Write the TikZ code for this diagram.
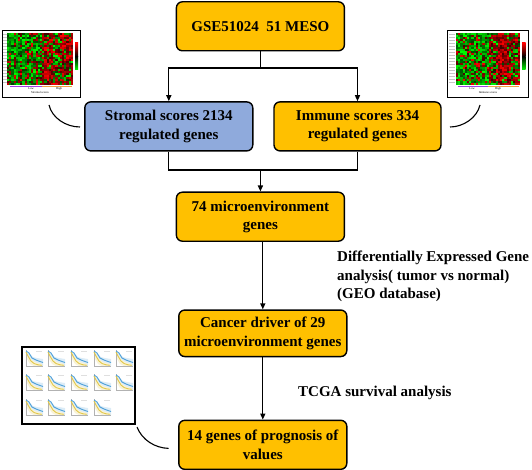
\documentclass[tikz,border=0pt]{standalone}
\usepackage{fontspec}
\setmainfont{Liberation Serif}
\usetikzlibrary{arrows.meta}
\definecolor{boxorange}{HTML}{FFC000}
\definecolor{boxblue}{HTML}{8FAADC}
\definecolor{survblue}{HTML}{4FA0D8}
\definecolor{survyellow}{HTML}{E2C84A}
\definecolor{lowpurple}{HTML}{A040E0}
\definecolor{highorange}{HTML}{F0A040}

% #1 x0, #2 y0, #3 cols, #4 rows, #5 split column, #6 cell width, #7 cell height
\newcommand{\myheat}[7]{%
 \foreach \cc in {1,...,#3}{%
  \pgfmathsetmacro\cb{(\cc<#5+1 ? 0.25 : -0.25) + 0.6*rnd - 0.3}%
  \foreach \rr in {1,...,#4}{%
   \pgfmathsetmacro\vv{rnd+\cb}%
   \pgfmathtruncatemacro\ig{\vv>0.5 ? 1 : 0}%
   \pgfmathtruncatemacro\hi{25+75*rnd}%
   \ifnum\ig=1 \def\hc{green}\else\def\hc{red}\fi
   \fill[\hc!\hi!black] ({#1+(\cc-1)*#6},{#2+(\rr-1)*#7}) rectangle ++(#6,#7);
  }}}

\newcommand{\survplot}[2]{%
 \begin{scope}[shift={(#1,#2)}]
  \fill[survblue!20] (3,4) -- (7,6) -- (10,9) -- (14,10) -- (20,11) -- (20,18) -- (14,16) -- (10,14) -- (7,10) -- (3,3) -- cycle;
  \fill[survyellow!22] (3,5) -- (5,7) -- (8,11) -- (12,14) -- (19,16) -- (19,18) -- (11,18) -- (7,16) -- (4,11) -- cycle;
  \draw[gray!60, line width=0.4] (3,2) -- (3,18) -- (20,18);
  \draw[survyellow, line width=0.9] (3,4) -- (5,8) -- (8,13) -- (11,15.5) -- (15,16.8) -- (19,17.3);
  \draw[survblue, line width=0.9] (3,3) -- (6,5) -- (9,10) -- (13,12) -- (17,13.5) -- (20,14.5);
  \fill[gray!25] (13,2.5) rectangle (19,4);
 \end{scope}}

\begin{document}
\begin{tikzpicture}[x=1pt,y=-1pt,
  box/.style={draw, line width=1.4pt, rounded corners=6pt, fill=boxorange,
    minimum width=168pt, minimum height=49pt, align=center, inner sep=2pt,
    font=\fontsize{15}{18.4}\selectfont\bfseries},
  lbl/.style={align=left, inner sep=0pt, font=\fontsize{15}{18.2}\selectfont\bfseries},
  tiny/.style={inner sep=0pt, font=\fontsize{3}{3.5}\selectfont},
  conn/.style={line width=1.3pt},
  arr/.style={conn, -{Triangle[length=6pt,width=5pt]}},
  curve/.style={line width=1.1pt}]
\useasboundingbox (0,0) rectangle (532,470);
\pgfmathsetseed{11}

% ---------- boxes ----------
\node[box] (top) at (260.4,26.3) {GSE51024~~51 MESO};
\node[box, fill=boxblue] (stromal) at (168.8,126.4) {Stromal scores 2134\\regulated genes};
\node[box, minimum width=167pt] (immune) at (357.5,126.4) {Immune scores 334\\regulated genes};
\node[box] (mid) at (260.4,216.7) {74 microenvironment\\genes};
\node[box, minimum height=46.5pt] (cancer) at (262.8,333.3) {Cancer driver of 29\\microenvironment genes};
\node[box] (final) at (262.8,444.8) {14 genes of prognosis of\\values};

% ---------- connectors ----------
\coordinate (j1) at (260.4,68);
\coordinate (j2) at (260.4,170);
\draw[conn] (top.south) -- (j1);
\draw[arr] (j1) -| (stromal.north);
\draw[arr] (j1) -| (immune.north);
\draw[conn] (stromal.south) |- (j2) -| (immune.south);
\draw[arr] (j2) -- (mid.north);
\draw[arr] (mid.south -| cancer.north) -- (cancer.north);
\draw[arr] (cancer.south) -- (final.north);

% ---------- labels ----------
\node[lbl, anchor=west] (deg) at (337,276.5) {Differentially Expressed Gene\\analysis( tumor vs normal)\\(GEO database)};
\node[lbl, anchor=west] (tcga) at (298,393) {TCGA survival analysis};

% ---------- left heatmap ----------
\foreach \k in {0,...,16} \draw[gray!45, line width=0.8] (3,34.5+3*\k) -- (6.5,34.5+3*\k);
\myheat{7}{33}{30}{26}{16}{2.2}{2}
\shade[top color=red, bottom color=black] (75,43) rectangle (78,56.5);
\shade[top color=black, bottom color=green] (75,56.5) rectangle (78,70);
\draw[lowpurple, line width=0.8] (10,86) -- (42,86);
\draw[highorange, line width=0.8] (42,86) -- (72,86);
\node[tiny] (lowL) at (31,88.6) {Low};
\node[tiny] (highL) at (59,88.6) {High};
\node[tiny] (strL) at (40,92.6) {Stromal scores};
\draw[line width=0.9] (2,30) rectangle (80,97);

% ---------- right heatmap ----------
\foreach \k in {0,...,16} \draw[gray!45, line width=0.8] (449,34.5+3*\k) -- (455,34.5+3*\k);
\myheat{456}{33}{29}{26}{15}{2.2}{2}
\shade[top color=red, bottom color=black] (522,43) rectangle (525.5,56.5);
\shade[top color=black, bottom color=green] (522,56.5) rectangle (525.5,70);
\draw[lowpurple, line width=0.8] (458,86) -- (488,86);
\draw[highorange, line width=0.8] (488,86) -- (519,86);
\node[tiny] (lowR) at (472,88.6) {Low};
\node[tiny] (highR) at (498,88.6) {High};
\node[tiny] (immR) at (488,92.6) {Immune scores};
\draw[line width=0.9] (447,30) rectangle (528,97);

% ---------- survival panel ----------
\foreach \px in {23,45,68,91,113} {\survplot{\px}{348}}
\foreach \px in {23,45,68,91,113} {\survplot{\px}{372}}
\foreach \px in {23,45,68,91} {\survplot{\px}{397}}
\draw[line width=1.1] (22,347) rectangle (135,424);

% ---------- decorative curves ----------
\coordinate (cl1) at (49,105);  \coordinate (cl2) at (80,127);
\coordinate (cr1) at (480,105); \coordinate (cr2) at (450,127);
\coordinate (cb1) at (137,427); \coordinate (cb2) at (168.6,448.4);
\draw[curve] (cl1) .. controls (52,118) and (66,127) .. (cl2);
\draw[curve] (cr1) .. controls (477,118) and (463,127) .. (cr2);
\draw[curve] (cb1) .. controls (142,440) and (155,448) .. (cb2);
\end{tikzpicture}
\end{document}
